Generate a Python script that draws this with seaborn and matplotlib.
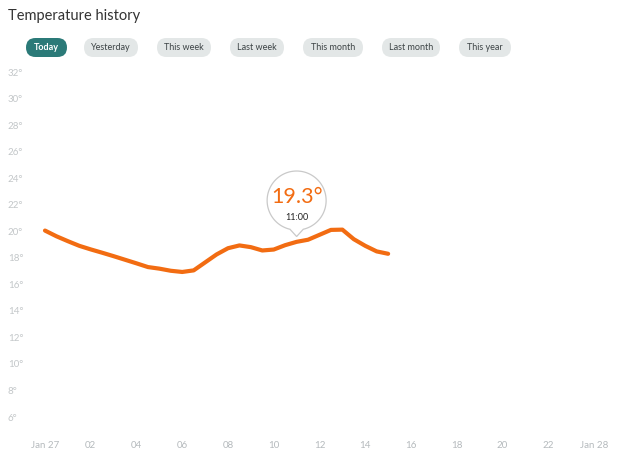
import numpy as np
import pandas as pd
import seaborn as sns
import matplotlib
matplotlib.use("Agg")
from matplotlib import pyplot as plt
from matplotlib.patches import FancyBboxPatch, Polygon
from matplotlib import transforms

# data (hours since midnight, Jan 27)
hours = [0.0, 0.5, 1.0, 1.5, 2.0, 2.5, 3.0, 3.5, 4.0, 4.5, 5.0, 5.5, 6.0, 6.5,
         7.0, 7.5, 8.0, 8.5, 9.0, 9.5, 10.0, 10.5, 11.0, 11.5, 12.0, 12.5,
         13.0, 13.5, 14.0, 14.5, 15.0]
temps = [20.05, 19.62, 19.25, 18.9, 18.63, 18.38, 18.12, 17.85, 17.58, 17.3,
         17.18, 17.02, 16.93, 17.05, 17.65, 18.25, 18.72, 18.93, 18.8, 18.55,
         18.62, 18.95, 19.2, 19.36, 19.73, 20.1, 20.12, 19.4, 18.9, 18.48,
         18.3]

y_ticks = [6, 8, 10, 12, 14, 16, 18, 20, 22, 24, 26, 28, 30, 32]
x_ticks = [0, 2, 4, 6, 8, 10, 12, 14, 16, 18, 20, 22, 24]
x_labels = ["Jan 27", "02", "04", "06", "08", "10", "12", "14", "16", "18",
            "20", "22", "Jan 28"]
buttons = ["Today", "Yesterday", "This week", "Last week", "This month",
           "Last month", "This year"]
selected = "Today"
tip_hour = 11.0
tip_temp = 19.3
tip_label = "11:00"

ORANGE = "#f26c12"
TEAL = "#2b7a78"

sns.set_style("white")
plt.rcParams["font.family"] = ["Lato", "DejaVu Sans"]

W, H = 617, 461
fig = plt.figure(figsize=(W / 100, H / 100), dpi=100)


def fx(px):
    return px / W


def fy(py):
    return 1 - py / H


# axes placed so that hour 0 -> x=45px, hour 24 -> 594px, 6deg -> 417px, 32deg -> 72px
left_px, right_px, top_px, bottom_px = 30, 610, 62, 432
ax = fig.add_axes([fx(left_px), fy(bottom_px), fx(right_px - left_px),
                   (bottom_px - top_px) / H])
ppx = (594 - 45) / 24
ppy = (417 - 72) / 26
ax.set_xlim((left_px - 45) / ppx, 24 + (right_px - 594) / ppx)
ax.set_ylim(6 - (bottom_px - 417) / ppy, 32 + (72 - top_px) / ppy)

df = pd.DataFrame({"hour": hours, "temp": temps})
sns.lineplot(data=df, x="hour", y="temp", ax=ax, color=ORANGE, linewidth=3.0,
             solid_capstyle="round", solid_joinstyle="round")

sns.despine(ax=ax, left=True, bottom=True)
ax.set_xlabel("")
ax.set_ylabel("")
ax.grid(False)

ax.set_yticks(y_ticks)
ax.set_yticklabels([f"{t}°" for t in y_ticks])
ax.tick_params(axis="y", length=0, pad=(left_px - 8) * 0.72, labelsize=7,
               labelcolor="#c3c7c9")
for lab in ax.get_yticklabels():
    lab.set_horizontalalignment("left")

ax.set_xticks(x_ticks)
ax.set_xticklabels(x_labels)
ax.tick_params(axis="x", length=0, pad=(445 - bottom_px) * 0.72 - 3,
               labelsize=7, labelcolor="#b5babd")

# title
fig.text(fx(8), fy(16), "Temperature history", fontsize=10.5, color="#333333",
         va="center", ha="left")

# range buttons
btn_x = [(26, 67), (84, 138), (157, 211), (230, 284), (303, 363), (382, 440),
         (459, 511)]
for (x0, x1), name in zip(btn_x, buttons):
    on = name == selected
    patch = FancyBboxPatch((x0, H - 57), x1 - x0, 19,
                           boxstyle="round,pad=0,rounding_size=9.5",
                           transform=transforms.IdentityTransform(),
                           facecolor=TEAL if on else "#e3e7e7",
                           edgecolor="none")
    fig.patches.append(patch)
    fig.text(fx((x0 + x1) / 2), fy(47.5), name, fontsize=6.5,
             color="white" if on else "#3d4446",
             fontweight="bold" if on else "normal", ha="center", va="center")

# callout bubble above the hovered point
anchor = transforms.ScaledTranslation(tip_hour, tip_temp, ax.transData)
trans = fig.dpi_scale_trans + anchor
r, cy, tip_y = 29.5, 40.0, 4.0
d = np.deg2rad(13)
ang = np.linspace(-np.pi / 2 + d, 1.5 * np.pi - d, 120)
pts = [(r * np.cos(a), cy + r * np.sin(a)) for a in ang] + [(0, tip_y)]
pts = np.array(pts) / 100.0
bubble = Polygon(pts, closed=True, transform=trans, facecolor="white",
                 edgecolor="#c9c9c9", linewidth=0.9, zorder=5)
ax.add_patch(bubble)
ax.annotate(f"{tip_temp}°", xy=(tip_hour, tip_temp), xytext=(0, cy + 3.5),
            textcoords="offset pixels", ha="center", va="center",
            fontsize=15.5, color=ORANGE, zorder=6)
ax.annotate(tip_label, xy=(tip_hour, tip_temp), xytext=(0, cy - 16.5),
            textcoords="offset pixels", ha="center", va="center",
            fontsize=6.5, color="#222222", zorder=6)

fig.savefig("out.png", dpi=100)
